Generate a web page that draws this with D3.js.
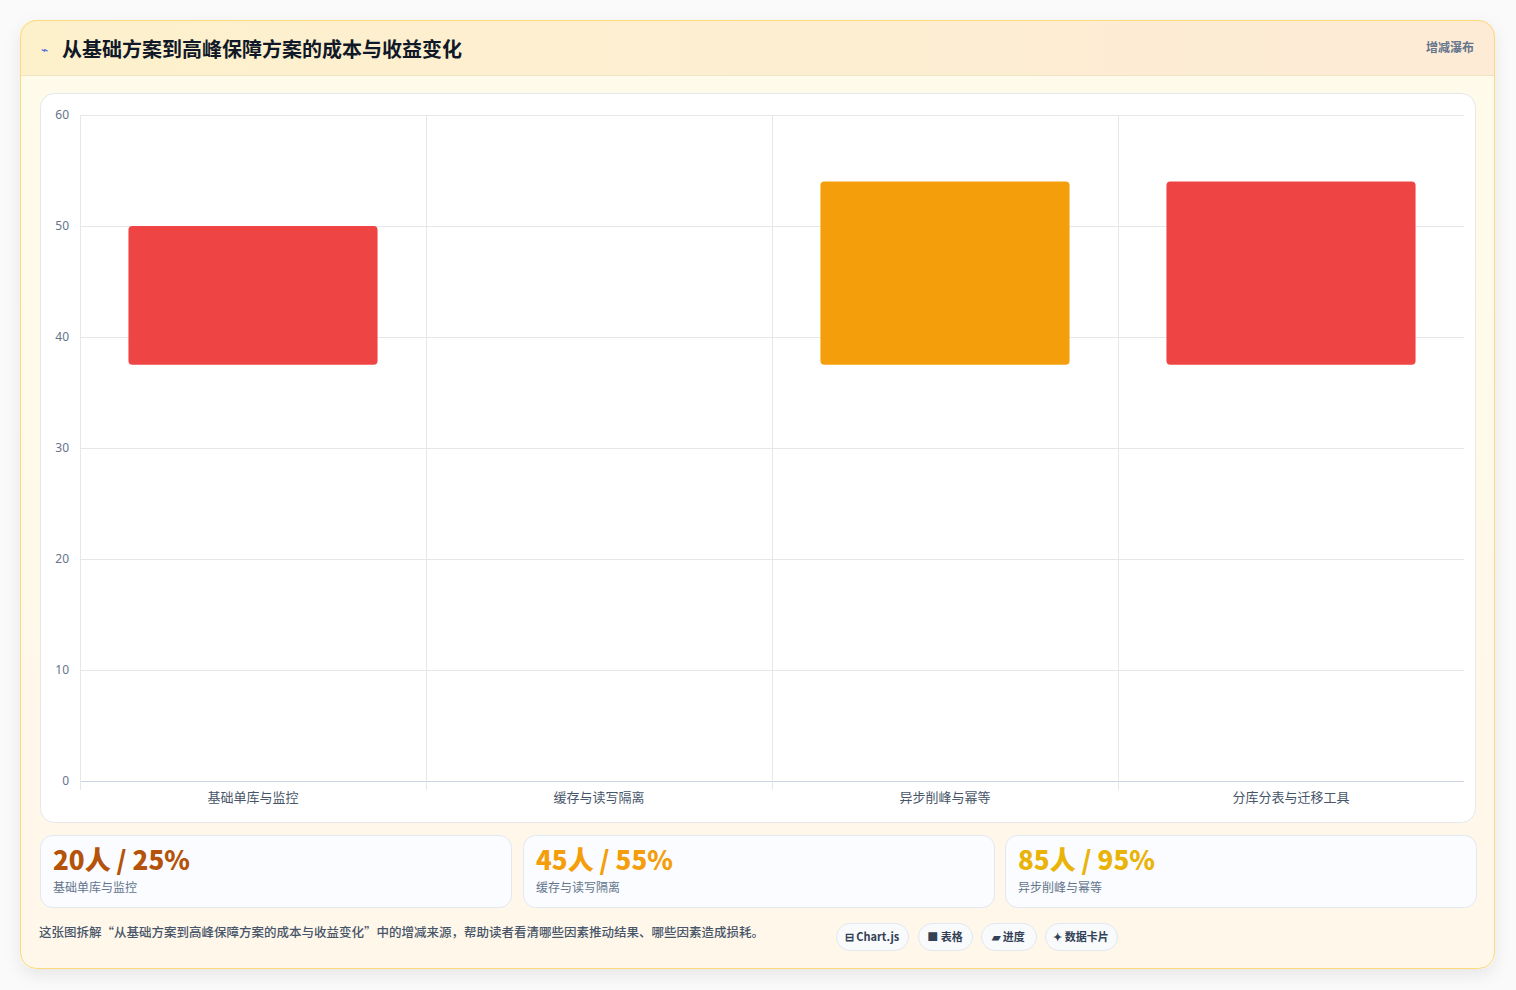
<!DOCTYPE html>
<html><head><meta charset="utf-8">
<script src="https://cdn.jsdelivr.net/npm/d3@7/dist/d3.min.js"></script>
<style>
body{margin:0;background:#fafafa;font-family:"Noto Sans CJK SC","Noto Sans",sans-serif;}
svg{display:block}
</style></head><body>
<svg id="c" width="1516" height="990"></svg>
<script>
const categories=["基础单库与监控","缓存与读写隔离","异步削峰与幂等","分库分表与迁移工具"];
const barStart=[37.5,null,37.5,37.5];
const barEnd=[50,null,54,54];
const barColors=["#ef4444",null,"#f59e0b","#ef4444"];
const yTicks=[0,10,20,30,40,50,60];
const kpiValues=["20人 / 25%","45人 / 55%","85人 / 95%"];
const kpiLabels=["基础单库与监控","缓存与读写隔离","异步削峰与幂等"];
const kpiColors=["#b45309","#f59e0b","#eab308"];
const pills=["⊟ Chart.js","■ 表格","▰ 进度","✦ 数据卡片"];
const title="从基础方案到高峰保障方案的成本与收益变化";
const note="这张图拆解“从基础方案到高峰保障方案的成本与收益变化”中的增减来源，帮助读者看清哪些因素推动结果、哪些因素造成损耗。";

const svg=d3.select("#c");
const defs=svg.append("defs");
const g1=defs.append("linearGradient").attr("id","hd").attr("x1",0).attr("x2",1);
g1.append("stop").attr("offset",0).attr("stop-color","#fdf1cc");
g1.append("stop").attr("offset",1).attr("stop-color","#fdebd6");
const g2=defs.append("linearGradient").attr("id","bg").attr("x1",0).attr("x2",0).attr("y1",0).attr("y2",1);
g2.append("stop").attr("offset",0).attr("stop-color","#fffbea");
g2.append("stop").attr("offset",1).attr("stop-color","#fff7ea");
const f=defs.append("filter").attr("id","sh").attr("x","-5%").attr("y","-5%").attr("width","110%").attr("height","110%");
f.append("feDropShadow").attr("dx",0).attr("dy",6).attr("stdDeviation",8).attr("flood-color","#000").attr("flood-opacity",0.08);
const clip=defs.append("clipPath").attr("id","cl");
clip.append("rect").attr("x",20).attr("y",20).attr("width",1475).attr("height",949).attr("rx",16);

svg.append("rect").attr("x",20).attr("y",20).attr("width",1475).attr("height",949).attr("rx",16).attr("fill","url(#bg)").attr("filter","url(#sh)");
svg.append("rect").attr("x",20).attr("y",20).attr("width",1475).attr("height",55).attr("fill","url(#hd)").attr("clip-path","url(#cl)");
svg.append("line").attr("x1",20).attr("x2",1495).attr("y1",75.5).attr("y2",75.5).attr("stroke","#f1e4c4");
svg.append("rect").attr("x",20.5).attr("y",20.5).attr("width",1474).attr("height",948).attr("rx",16).attr("fill","none").attr("stroke","#fcd97a");
svg.append("text").attr("x",41).attr("y",54).attr("font-size",12).attr("fill","#3b5bdb").text("⌁");
svg.append("text").attr("x",62).attr("y",57).attr("font-size",20).attr("font-weight",700).attr("fill","#111827").text(title);
svg.append("text").attr("x",1474).attr("y",52).attr("text-anchor","end").attr("font-size",12).attr("font-weight",600).attr("fill","#64748b").text("增减瀑布");

svg.append("rect").attr("x",40.5).attr("y",93.5).attr("width",1435).attr("height",729).attr("rx",14).attr("fill","#fff").attr("stroke","#e5e7eb");

const x=d3.scaleBand().domain(categories).range([80,1464]).paddingInner(0.28).paddingOuter(0.14);
const xb=d3.scaleBand().domain(categories).range([80,1464]);
const y=d3.scaleLinear().domain([0,60]).range([781,115]);
const gg=svg.append("g");
yTicks.forEach(t=>{gg.append("line").attr("x1",80).attr("x2",1464).attr("y1",y(t)+.5).attr("y2",y(t)+.5).attr("stroke",t===0?"#cbd5e1":"#e5e7eb");});
const bounds=categories.map(c=>xb(c));
bounds.forEach(b=>{gg.append("line").attr("x1",b+.5).attr("x2",b+.5).attr("y1",115).attr("y2",790).attr("stroke","#e5e7eb");});
const ya=svg.append("g").attr("transform","translate(80,0)").call(d3.axisLeft(y).tickValues(yTicks).tickSize(0).tickPadding(11));
ya.select(".domain").remove();
ya.selectAll("text").attr("font-size",12).attr("fill","#64748b").attr("font-family","Noto Sans");
const xa=svg.append("g").attr("transform","translate(0,781)").call(d3.axisBottom(xb).tickSize(0).tickPadding(12));
xa.select(".domain").remove();
xa.selectAll("text").attr("font-size",13).attr("fill","#475569").attr("font-family","Noto Sans CJK SC");

categories.forEach((c,i)=>{
 if(barStart[i]==null)return;
 svg.append("rect").attr("x",x(c)).attr("width",x.bandwidth()).attr("y",y(barEnd[i])).attr("height",y(barStart[i])-y(barEnd[i])).attr("rx",4).attr("fill",barColors[i]);
});

const kx=[40,523,1005];
kpiValues.forEach((v,i)=>{
 svg.append("rect").attr("x",kx[i]+.5).attr("y",835.5).attr("width",471).attr("height",72).attr("rx",12).attr("fill","#fafcff").attr("stroke","#e2e8f0");
 svg.append("text").attr("x",kx[i]+13).attr("y",870).attr("font-size",26).attr("font-weight",800).attr("fill",kpiColors[i]).text(v);
 svg.append("text").attr("x",kx[i]+13).attr("y",892).attr("font-size",12).attr("fill","#64748b").text(kpiLabels[i]);
});
svg.append("text").attr("x",39).attr("y",937).attr("font-size",12.5).attr("font-weight",500).attr("fill","#475569").text(note);
const px=[836,918,981,1045],pw=[72,54,55,72];
pills.forEach((p,i)=>{
 svg.append("rect").attr("x",px[i]+.5).attr("y",923.5).attr("width",pw[i]).attr("height",27).attr("rx",13.5).attr("fill","#f8fafc").attr("stroke","#e2e8f0");
 svg.append("text").attr("x",px[i]+pw[i]/2).attr("y",941).attr("text-anchor","middle").attr("font-size",11).attr("font-weight",600).attr("fill","#334155").text(p);
});
</script></body></html>
